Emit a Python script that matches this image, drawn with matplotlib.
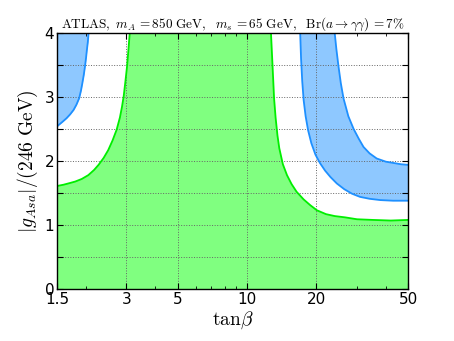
import matplotlib
matplotlib.use("Agg")
import matplotlib.pyplot as plt
from matplotlib.ticker import FixedLocator, NullFormatter, FixedFormatter

plt.rcParams['mathtext.fontset'] = 'cm'

# green region boundary, left branch (tan beta, coupling)
green_left_x = [1.50, 1.60, 1.70, 1.80, 1.92, 2.05, 2.17, 2.27, 2.39, 2.50, 2.61, 2.72, 2.81, 2.87, 2.92, 2.97, 3.02, 3.06, 3.10]
green_left_y = [1.61, 1.63, 1.655, 1.68, 1.72, 1.78, 1.86, 1.94, 2.05, 2.17, 2.32, 2.49, 2.68, 2.85, 3.02, 3.25, 3.49, 3.74, 4.00]
# green region boundary, right branch
green_right_x = [12.7, 12.9, 13.1, 13.3, 13.55, 13.8, 14.3, 14.9, 15.6, 16.4, 17.6, 18.8, 20.1, 22.0, 24.0, 26.6, 30.0, 35.0, 42.0, 50.0]
green_right_y = [4.00, 3.49, 2.98, 2.68, 2.40, 2.20, 1.95, 1.78, 1.64, 1.52, 1.40, 1.31, 1.23, 1.17, 1.14, 1.12, 1.09, 1.08, 1.07, 1.08]

# blue band at small tan beta
blue_left_x = [1.50, 1.52, 1.58, 1.65, 1.71, 1.77, 1.82, 1.87, 1.905, 1.93, 1.96, 1.985, 2.005, 2.02, 2.04, 2.055]
blue_left_y = [2.54, 2.56, 2.61, 2.67, 2.73, 2.80, 2.88, 2.98, 3.10, 3.21, 3.35, 3.49, 3.62, 3.73, 3.86, 4.00]

# blue band at large tan beta: lower / outer edge
blue_out_x = [17.0, 17.15, 17.35, 17.6, 17.95, 18.4, 19.0, 19.8, 20.7, 21.8, 23.0, 24.5, 26.4, 28.5, 30.9, 34.0, 37.8, 43.0, 50.0]
blue_out_y = [4.00, 3.60, 3.25, 2.95, 2.70, 2.48, 2.28, 2.10, 1.97, 1.85, 1.75, 1.65, 1.56, 1.49, 1.44, 1.41, 1.39, 1.38, 1.38]
# upper / inner edge
blue_in_x = [24.0, 24.4, 24.9, 25.5, 26.2, 27.5, 29.0, 30.5, 32.0, 34.0, 36.5, 40.0, 43.2, 46.5, 50.0]
blue_in_y = [4.00, 3.75, 3.49, 3.22, 2.98, 2.70, 2.50, 2.35, 2.22, 2.12, 2.04, 1.99, 1.97, 1.95, 1.94]

xticks = [1.5, 3, 5, 10, 20, 50]
xticklabels = ['1.5', '3', '5', '10', '20', '50']
yticks = [0, 0.5, 1, 1.5, 2, 2.5, 3, 3.5, 4]
yticklabels = ['0', '', '1', '', '2', '', '3', '', '4']

green_line = '#00ee00'
green_fill = '#80ff80'
blue_line = '#1e90ff'
blue_fill = '#8ec8ff'

fig = plt.figure(figsize=(4.54, 3.41), dpi=100)
ax = fig.add_axes([0.1256, 0.1525, 0.7736, 0.7504])
ax.set_xscale('log')

# green
gx = [green_left_x[0]] + green_left_x + green_right_x + [green_right_x[-1]]
gy = [0] + green_left_y + green_right_y + [0]
ax.fill(gx, gy, color=green_fill, lw=0, zorder=1)
ax.plot(green_left_x, green_left_y, color=green_line, lw=1.3, zorder=3)
ax.plot(green_right_x, green_right_y, color=green_line, lw=1.3, zorder=3)

# blue left
ax.fill_betweenx(blue_left_y, [blue_left_x[0]] * len(blue_left_x), blue_left_x,
                 color=blue_fill, lw=0, zorder=1)
ax.plot(blue_left_x, blue_left_y, color=blue_line, lw=1.3, zorder=3)

# blue right
bx = blue_out_x + blue_in_x[::-1]
by = blue_out_y + blue_in_y[::-1]
ax.fill(bx, by, color=blue_fill, lw=0, zorder=1)
ax.plot(blue_out_x, blue_out_y, color=blue_line, lw=1.3, zorder=3)
ax.plot(blue_in_x, blue_in_y, color=blue_line, lw=1.3, zorder=3)

ax.set_xlim(1.5, 50)
ax.set_ylim(0, 4)
ax.xaxis.set_major_locator(FixedLocator(xticks))
ax.xaxis.set_major_formatter(FixedFormatter(xticklabels))
ax.xaxis.set_minor_formatter(NullFormatter())
ax.set_yticks(yticks)
ax.set_yticklabels(yticklabels)
ax.tick_params(which='both', direction='in', top=True, right=True, labelsize=11, pad=2)
ax.tick_params(which='major', length=4)
ax.tick_params(which='minor', length=2)
ax.grid(True, which='major', color='#666666', linestyle=':', linewidth=0.7, zorder=2)
ax.set_axisbelow(False)
for s in ax.spines.values():
    s.set_linewidth(1.0)
    s.set_zorder(5)

ax.set_xlabel(r'$\mathrm{tan}\beta$', fontsize=14, labelpad=2)
ax.set_ylabel(r'$|g_{Asa}|/(246\ \mathrm{GeV})$', fontsize=14, labelpad=3)
ax.set_title(r'$\mathrm{ATLAS,}\ m_A\,{=}850\ \mathrm{GeV,}\ \ m_s\,{=}65\ \mathrm{GeV,}\ \ \mathrm{Br}(a{\to}\gamma\gamma)\,{=}7\%$',
             fontsize=9.5, pad=3)

fig.savefig('out.png', dpi=100, facecolor='white')
